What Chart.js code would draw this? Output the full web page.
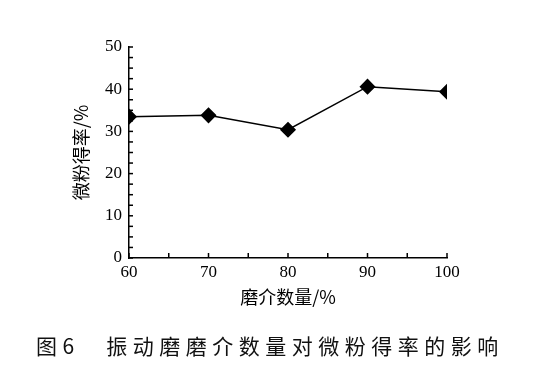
<!DOCTYPE html>
<html>
<head>
<meta charset="utf-8">
<script src="https://cdn.jsdelivr.net/npm/chart.js@4/dist/chart.umd.min.js"></script>
<style>
  html, body { margin: 0; padding: 0; background: #fff; }
  #wrap { position: relative; width: 542px; height: 373px; }
  #c { position: absolute; left: 0; top: 0; }
  #caption { position: absolute; left: 36px; top: 335px; font-family: "Noto Sans CJK SC", sans-serif; font-size: 21px; line-height: 21px; letter-spacing: 5.5px; color: #111; white-space: nowrap; }
</style>
</head>
<body>
<div id="wrap">
  <canvas id="c" width="542" height="373"></canvas>
  <div id="caption">图6　振动磨磨介数量对微粉得率的影响</div>
</div>
<script>
const mediaAmount = [60, 70, 80, 90, 100];
const powderYield = [33.5, 33.8, 30.4, 40.6, 39.4];
const xTitle = '磨介数量/%';
const yTitle = '微粉得率/%';

const inwardTicks = {
  id: 'inwardTicks',
  afterDraw(chart) {
    const ctx = chart.ctx;
    const xs = chart.scales.x, ys = chart.scales.y;
    const area = chart.chartArea;
    ctx.save();
    ctx.strokeStyle = '#000';
    ctx.lineWidth = 1.5;
    ys.ticks.forEach(t => {
      const py = ys.getPixelForValue(t.value);
      ctx.beginPath();
      ctx.moveTo(area.left, py);
      ctx.lineTo(area.left + 4, py);
      ctx.stroke();
    });
    xs.ticks.forEach(t => {
      const px = xs.getPixelForValue(t.value);
      ctx.beginPath();
      ctx.moveTo(px, area.bottom);
      ctx.lineTo(px, area.bottom - 5);
      ctx.stroke();
    });
    ctx.restore();
  }
};

new Chart(document.getElementById('c'), {
  type: 'line',
  data: {
    datasets: [{
      data: mediaAmount.map((x, i) => ({ x: x, y: powderYield[i] })),
      borderColor: '#000',
      borderWidth: 1.5,
      backgroundColor: '#000',
      pointStyle: 'rectRot',
      pointRadius: 7,
      pointHoverRadius: 7,
      tension: 0
    }]
  },
  options: {
    responsive: false,
    animation: false,
    devicePixelRatio: 1,
    layout: { padding: { left: 70, right: 95, top: 47, bottom: 65 } },
    plugins: { legend: { display: false }, tooltip: { enabled: false } },
    scales: {
      x: {
        type: 'linear',
        min: 60, max: 100,
        ticks: {
          stepSize: 5,
          autoSkip: false,
          maxRotation: 0,
          padding: 4,
          color: '#000',
          font: { family: '"Liberation Serif", serif', size: 17 },
          callback: v => (v % 10 === 0 ? String(v) : '')
        },
        grid: { display: true, drawOnChartArea: false, drawTicks: false },
        border: { display: true, color: '#000', width: 1.5 },
        title: {
          display: true, text: xTitle, color: '#000', padding: 0,
          font: { family: '"Noto Sans CJK SC", sans-serif', size: 18 }
        },
        afterFit: s => { s.height = 50; }
      },
      y: {
        min: 0, max: 50,
        ticks: {
          stepSize: 2.5,
          autoSkip: false,
          padding: 7,
          color: '#000',
          font: { family: '"Liberation Serif", serif', size: 17 },
          callback: v => (v % 10 === 0 ? String(v) : '')
        },
        grid: { display: true, drawOnChartArea: false, drawTicks: false },
        border: { display: true, color: '#000', width: 1.5 },
        title: {
          display: true, text: yTitle, color: '#000', padding: 0,
          font: { family: '"Noto Sans CJK SC", sans-serif', size: 18 }
        },
        afterFit: s => { s.width = 59; }
      }
    }
  },
  plugins: [inwardTicks]
});
</script>
</body>
</html>
